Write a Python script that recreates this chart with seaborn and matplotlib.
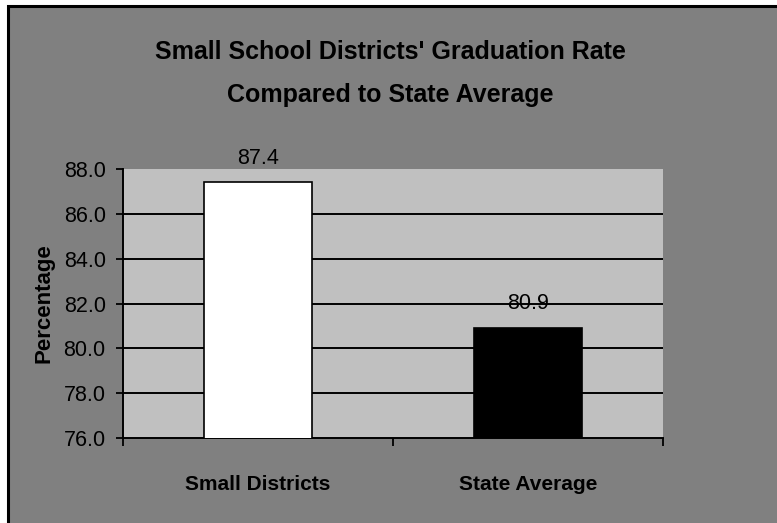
import matplotlib
matplotlib.use("Agg")
import matplotlib.pyplot as plt
from matplotlib import font_manager
from matplotlib.patches import Rectangle
from matplotlib.ticker import FixedLocator, FormatStrFormatter
import seaborn as sns
import pandas as pd

# Chart data
categories = ["Small Districts", "State Average"]
rates = [87.4, 80.9]
bar_colors = ["#ffffff", "#000000"]
y_ticks = [76.0, 78.0, 80.0, 82.0, 84.0, 86.0, 88.0]
title_lines = ["Small School Districts' Graduation Rate", "Compared to State Average"]
y_label = "Percentage"

sns.set_theme(style="white")
installed = {f.name for f in font_manager.fontManager.ttflist}
family = "Liberation Sans Narrow" if "Liberation Sans Narrow" in installed else "Liberation Sans"
plt.rcParams["font.family"] = [family, "DejaVu Sans"]

df = pd.DataFrame({"category": categories, "rate": rates})

fig = plt.figure(figsize=(7.77, 5.23), dpi=100, facecolor="white")
# gray chart area with a black frame on its top and left edges
fig.patches.append(Rectangle((8 / 777, -0.1), 1.2, 1 - 6 / 523 + 0.1,
                             transform=fig.transFigure, facecolor="#808080",
                             edgecolor="black", linewidth=2.2, zorder=-5))

ax = fig.add_axes([123 / 777, 1 - 438 / 523, 540 / 777, 269 / 523])
ax.set_zorder(2)
ax.set_facecolor("#c0c0c0")

sns.barplot(data=df, x="category", y="rate", hue="category", palette=bar_colors,
            width=0.4, edgecolor="black", linewidth=1.2, legend=False, ax=ax,
            zorder=3)

ax.set_ylim(y_ticks[0], y_ticks[-1])
ax.set_xlim(-0.5, len(categories) - 0.5)
ax.yaxis.set_major_locator(FixedLocator(y_ticks))
ax.yaxis.set_major_formatter(FormatStrFormatter("%.1f"))
ax.yaxis.grid(True, color="black", linewidth=1.4, zorder=1)
ax.set_axisbelow(True)
ax.get_ygridlines()[-1].set_visible(False)
ax.get_ygridlines()[0].set_visible(False)

for side in ["top", "right"]:
    ax.spines[side].set_visible(False)
for side in ["left", "bottom"]:
    ax.spines[side].set_color("black")
    ax.spines[side].set_linewidth(1.4)

ax.tick_params(axis="y", direction="out", length=5, width=1.3, color="black",
               left=True, labelsize=15.5, labelcolor="black", pad=7.5)
# category labels sit between boundary tick marks
ax.set_xticks(range(len(categories)))
ax.set_xticklabels(categories, fontweight="bold", fontsize=15)
ax.set_xticks([i - 0.5 for i in range(len(categories) + 1)], minor=True)
ax.tick_params(axis="x", which="major", length=0, pad=27, labelcolor="black")
ax.tick_params(axis="x", which="minor", direction="out", length=6, width=1.3,
               color="black", bottom=True)

ax.set_xlabel("")
ax.set_ylabel(y_label, fontweight="bold", fontsize=16, color="black")
ax.yaxis.set_label_coords(-68 / 540, 0.5)

for patch, val in zip(ax.patches, rates):
    ax.annotate(f"{val:.1f}", (patch.get_x() + patch.get_width() / 2, val),
                xytext=(0, 13.5), textcoords="offset points", ha="center",
                va="baseline", fontsize=15.5, color="black")

fig.text(390 / 777, 1 - 52 / 523, title_lines[0], ha="center", va="center",
         fontsize=18, fontweight="bold", color="black")
fig.text(390 / 777, 1 - 95 / 523, title_lines[1], ha="center", va="center",
         fontsize=18, fontweight="bold", color="black")

fig.savefig("out.png", dpi=100, facecolor="white")
